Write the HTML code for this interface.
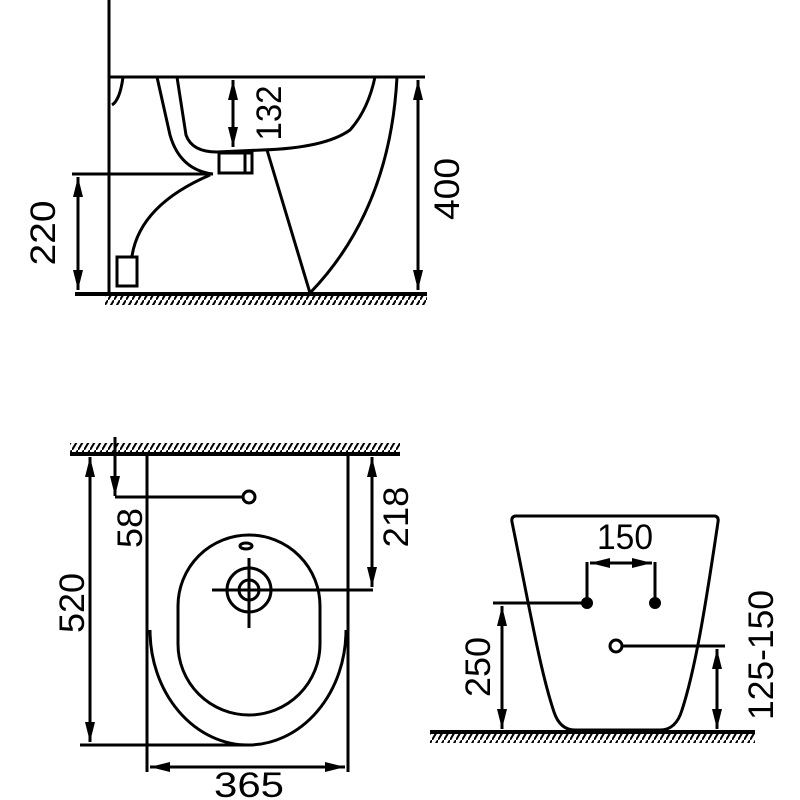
<!DOCTYPE html>
<html><head><meta charset="utf-8"><style>body{margin:0;background:#fff}svg{display:block}text{font-family:"Liberation Sans",sans-serif;font-size:35px;fill:#000}</style></head><body>
<svg width="800" height="800" viewBox="0 0 800 800" xmlns="http://www.w3.org/2000/svg">
<defs>
<pattern id="h" width="6" height="10" patternUnits="userSpaceOnUse"><line x1="0" y1="10" x2="6" y2="0" stroke="#000" stroke-width="2"/></pattern>
<marker id="a" viewBox="0 0 20 10" refX="20" refY="5" markerWidth="20" markerHeight="10" markerUnits="userSpaceOnUse" orient="auto-start-reverse"><path d="M0,0 L20,5 L0,10Z" fill="#000"/></marker>
</defs>
<g fill="none" stroke="#000" stroke-width="3">
<!-- top view -->
<line x1="109" y1="0" x2="109" y2="293"/>
<line x1="109" y1="77" x2="425" y2="77"/>
<line x1="75" y1="294" x2="427" y2="294" stroke-width="4"/>
<path d="M123,77 Q120,100 112,105"/>
<path d="M157,77 L170,135 Q180,170 213,174"/>
<path d="M177,77 L186,135 Q192,152 217,152 L262,150 Q325,148 350,130 Q368,110 375,77"/>
<rect x="219" y="153" width="26" height="20"/>
<path d="M245,153 L252,153 L252,173 L245,173"/>
<path d="M267,150 L310,293 Q390,210 397,77"/>
<line x1="72" y1="174" x2="213" y2="174"/>
<path d="M210,175 Q140,205 132,256"/>
<rect x="117" y="257" width="20" height="29"/>
<line x1="78" y1="177" x2="78" y2="290" marker-start="url(#a)" marker-end="url(#a)"/>
<line x1="233" y1="80" x2="233" y2="147" marker-start="url(#a)" marker-end="url(#a)"/>
<line x1="418" y1="80" x2="418" y2="290" marker-start="url(#a)" marker-end="url(#a)"/>
<!-- bottom-left view -->
<line x1="70" y1="454" x2="400" y2="454" stroke-width="4"/>
<line x1="147" y1="454" x2="147" y2="772"/>
<line x1="348" y1="454" x2="348" y2="772"/>
<line x1="115" y1="437" x2="115" y2="496" marker-end="url(#a)"/>
<line x1="115" y1="497" x2="243" y2="497"/>
<circle cx="249" cy="497" r="6"/>
<path d="M150,630 A98,115 0 0 0 346,630"/>
<rect x="178" y="535" width="142" height="180" rx="71" ry="71"/>
<ellipse cx="246" cy="546" rx="6" ry="3"/>
<circle cx="249" cy="590" r="22"/>
<circle cx="249" cy="590" r="10"/>
<line x1="212" y1="590" x2="373" y2="590"/>
<line x1="249" y1="558" x2="249" y2="628"/>
<line x1="372" y1="457" x2="372" y2="587" marker-start="url(#a)" marker-end="url(#a)"/>
<line x1="90" y1="457" x2="90" y2="742" marker-start="url(#a)" marker-end="url(#a)"/>
<line x1="80" y1="745" x2="246" y2="745"/>
<line x1="150" y1="767" x2="345" y2="767" marker-start="url(#a)" marker-end="url(#a)"/>
<!-- right view -->
<path d="M515,516 L715,516 Q719,517 718,522 C705,610 695,670 682,710 Q676,730 660,730 L575,730 Q560,730 554,712 C540,670 530,610 512,522 Q511,517 515,516Z"/>
<line x1="430" y1="732" x2="755" y2="732" stroke-width="4"/>
<path d="M587,603 L587,562 M655,603 L655,562"/>
<line x1="590" y1="563" x2="652" y2="563" marker-start="url(#a)" marker-end="url(#a)"/>
<line x1="493" y1="603" x2="587" y2="603"/>
<line x1="502" y1="606" x2="502" y2="729" marker-start="url(#a)" marker-end="url(#a)"/>
<circle cx="616" cy="646" r="6"/>
<line x1="622" y1="646" x2="725" y2="646"/>
<line x1="717" y1="649" x2="717" y2="729" marker-start="url(#a)" marker-end="url(#a)"/>
</g>
<circle cx="587" cy="603" r="6" fill="#000"/>
<circle cx="655" cy="603" r="6" fill="#000"/>
<rect x="105" y="296" width="322" height="9" fill="url(#h)"/>
<rect x="70" y="443" width="330" height="10" fill="url(#h)"/>
<rect x="430" y="734" width="325" height="9" fill="url(#h)"/>
<text transform="translate(281,113) rotate(-90)" text-anchor="middle" textLength="55" lengthAdjust="spacingAndGlyphs">132</text>
<text transform="translate(459,189) rotate(-90)" text-anchor="middle" textLength="62" lengthAdjust="spacingAndGlyphs">400</text>
<text transform="translate(55,233) rotate(-90)" text-anchor="middle" textLength="65" lengthAdjust="spacingAndGlyphs">220</text>
<text transform="translate(142,528) rotate(-90)" text-anchor="middle" textLength="40" lengthAdjust="spacingAndGlyphs">58</text>
<text transform="translate(408,517) rotate(-90)" text-anchor="middle" textLength="61" lengthAdjust="spacingAndGlyphs">218</text>
<text transform="translate(84,603) rotate(-90)" text-anchor="middle" textLength="60" lengthAdjust="spacingAndGlyphs">520</text>
<text x="249" y="797" text-anchor="middle" textLength="70" lengthAdjust="spacingAndGlyphs">365</text>
<text x="625" y="549" text-anchor="middle" textLength="56" lengthAdjust="spacingAndGlyphs">150</text>
<text transform="translate(490,667) rotate(-90)" text-anchor="middle" textLength="60" lengthAdjust="spacingAndGlyphs">250</text>
<text transform="translate(773,655) rotate(-90)" text-anchor="middle" textLength="130" lengthAdjust="spacingAndGlyphs">125-150</text>
</svg>
</body></html>
